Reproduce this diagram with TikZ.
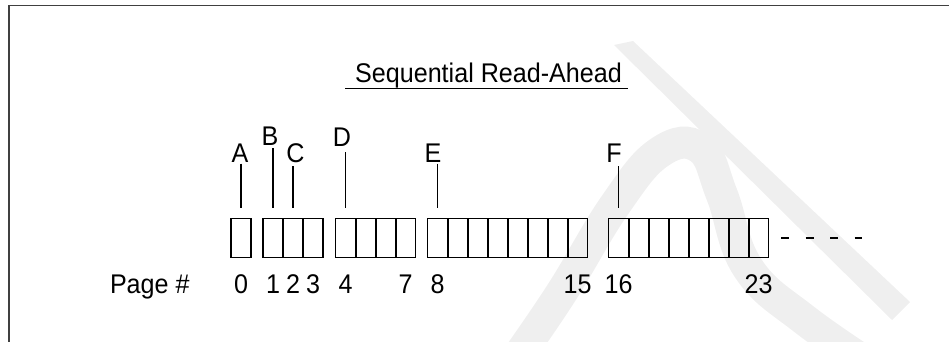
\documentclass[tikz,border=0pt]{standalone}
\usepackage{fontspec}
\setmainfont{Liberation Sans}
\newfontfamily\labelfont[FakeStretch=0.93]{Liberation Sans}
\usetikzlibrary{calc}
\definecolor{wmgray}{RGB}{239,239,239}
\begin{document}
\begin{tikzpicture}[x=1pt,y=-1pt,
  txt/.style={font=\labelfont\fontsize{27}{32}\selectfont, inner sep=0pt, outer sep=0pt},
  cell/.style={minimum width=20pt, minimum height=39.3pt, inner sep=0pt, outer sep=0pt},
  boxline/.style={line width=1.3pt},
  divider/.style={line width=2pt},
  pointer/.style={line width=1.5pt},
  frameline/.style={line width=1.6pt, black!75},
  wmark/.style={wmgray}]

\useasboundingbox (0,0) rectangle (949,342);

% faint background mark
\begin{scope}
  \clip (9,5.5) rectangle (949,342);
  \fill[wmark] (614,45) -- (633,41) -- (910,302) -- (892,320) -- cycle;
  \draw[wmark, line width=32pt] plot[smooth, tension=0.7] coordinates
    {(505,375) (560,295) (615,205) (660,152) (700,148) (722,195) (748,268) (805,320) (885,375)};
\end{scope}

% frame
\draw[frameline] (949,5.5) -- (9,5.5) -- (9,342);

% title
\node[txt, anchor=base] (title) at (488.5,83) {Sequential Read-Ahead};
\draw[line width=1.5pt] ($(title.base west)+(-10,5.5)$) -- ($(title.base east)+(6,5.5)$);

% page cells, grouped as the reads fetch them
\foreach \s/\n/\x in {0/1/231, 1/3/263, 4/4/335.5, 8/8/427.5, 16/8/608.5} {
  \foreach \k in {1,...,\n} {
    \pgfmathtruncatemacro\idx{\s+\k-1}
    \node[cell] (c\idx) at (\x+20*\k-10, 237.9) {};
  }
}
\foreach \i in {1,2,4,5,6,8,9,10,11,12,13,14,16,17,18,19,20,21,22}
  \draw[divider] (c\i.north east) -- (c\i.south east);
\foreach \a/\b in {0/0, 1/3, 4/7, 8/15, 16/23}
  \draw[boxline] (c\a.north west) rectangle (c\b.south east);

% continuation
\coordinate (tail) at (862,237.9);
\draw[line width=1.6pt, dash pattern=on 8pt off 16.5pt] ($(c23.east)+(12.5,0)$) -- (tail);

% read markers
\node[txt, anchor=base] (lbA) at (240,162) {A};
\node[txt, anchor=base] (lbB) at (270,145) {B};
\node[txt, anchor=base] (lbC) at (295.5,162) {C};
\node[txt, anchor=base] (lbD) at (342,146) {D};
\node[txt, anchor=base] (lbE) at (433,162) {E};
\node[txt, anchor=base] (lbF) at (614,162) {F};
\foreach \l/\c/\g in {A/0/1.5, B/1/3, C/2/4, D/4/6, E/8/1.5, F/16/4}
  \draw[pointer] ($(c\c.north |- lb\l.south)+(0,\g)$) -- ($(c\c.north)+(0,-10)$);

% page numbers
\coordinate (numrow) at (0,293);
\node[txt, anchor=base west] (pagelbl) at (110,293) {Page \#};
\foreach \c in {0,1,2,3,4,7,8,15,16,23}
  \node[txt, anchor=base] (n\c) at (c\c |- numrow) {\c};
\end{tikzpicture}
\end{document}
